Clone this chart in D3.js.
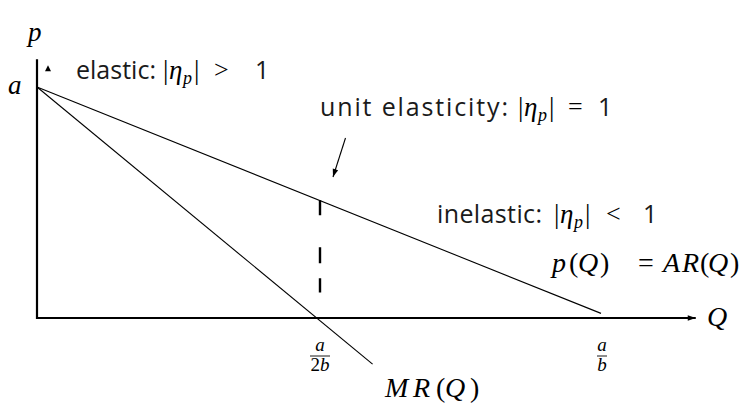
<!doctype html>
<html>
<head>
<meta charset="utf-8">
<script src="https://d3js.org/d3.v7.min.js"></script>
<style>
  body { margin: 0; background: #fff; }
  .sans { font-family: "Open Sans", sans-serif; font-size: 25px; fill: #1a1a1a; }
  .math { font-family: "Liberation Serif", serif; font-style: italic; }
  .rm { font-family: "Liberation Serif", serif; font-style: normal; }
</style>
</head>
<body>
<script>
// quantities in units of a/b, prices in units of a
var demandQ = [0, 1.0];
var demandP = [1, 0.02];
var mrQ = [0, 0.595];
var mrP = [1, -0.2];
var unitQ = 0.5;
var unitP = [0.51, 0.11];
var tickQ = [0.5, 1];
var tickNum = ["a", "a"];
var tickDen = ["2b", "b"];

var w = 739, h = 407;
var svg = d3.select("body").append("svg").attr("width", w).attr("height", h);

var x = d3.scaleLinear().domain([0, 1]).range([37, 601]);
var y = d3.scaleLinear().domain([0, 1]).range([318, 87]);

var defs = svg.append("defs");
defs.append("marker").attr("id", "ah")
    .attr("viewBox", "0 0 10 10").attr("refX", 10).attr("refY", 5)
    .attr("markerWidth", 11).attr("markerHeight", 8).attr("markerUnits", "userSpaceOnUse")
    .attr("orient", "auto")
  .append("path").attr("d", "M0,1.5L10,5L0,8.5Z").attr("fill", "#000");

// axes
svg.append("line")
   .attr("x1", x(0)).attr("y1", y(0)).attr("x2", x(1.168)).attr("y2", y(0))
   .attr("stroke", "#000").attr("stroke-width", 2.2)
   .attr("marker-end", "url(#ah)");
svg.append("line")
   .attr("x1", x(0)).attr("y1", y(0) + 1.1).attr("x2", x(0)).attr("y2", y(1.12))
   .attr("stroke", "#000").attr("stroke-width", 2.2);
// stray arrowhead near the top of the p axis
svg.append("path")
   .attr("d", "M" + (x(0) + 11) + "," + (y(1.12) + 6) + "l3,6l-6,0Z")
   .attr("fill", "#000");

var line = d3.line().x(function(d){ return x(d[0]); }).y(function(d){ return y(d[1]); });

svg.append("path")
   .attr("d", line(d3.zip(demandQ, demandP)))
   .attr("fill", "none").attr("stroke", "#000").attr("stroke-width", 1.1);
svg.append("path")
   .attr("d", line(d3.zip(mrQ, mrP)))
   .attr("fill", "none").attr("stroke", "#000").attr("stroke-width", 1.1);

// unit elasticity marker (drawn top to bottom)
svg.append("line")
   .attr("x1", x(unitQ) + 1).attr("x2", x(unitQ) + 1)
   .attr("y1", y(unitP[0])).attr("y2", y(unitP[1]))
   .attr("stroke", "#000").attr("stroke-width", 2.4)
   .attr("stroke-dasharray", "15,32,16,15,15");

svg.append("line")
   .attr("x1", 345.5).attr("y1", 138).attr("x2", 333).attr("y2", 177)
   .attr("stroke", "#000").attr("stroke-width", 1.1)
   .attr("marker-end", "url(#ah)");

// tick labels as fractions
var ticks = svg.selectAll("g.tick").data(tickQ).enter().append("g")
   .attr("transform", function(d){ return "translate(" + (x(d) + 1) + ",0)"; });
ticks.append("text").attr("class", "math").attr("text-anchor", "middle")
   .attr("y", 351).attr("font-size", 19).text(function(d, i){ return tickNum[i]; });
ticks.append("line").attr("y1", 356).attr("y2", 356)
   .attr("stroke", "#000").attr("stroke-width", 0.9)
   .attr("x1", function(d, i){ return tickDen[i].length > 1 ? -10 : -5; })
   .attr("x2", function(d, i){ return tickDen[i].length > 1 ? 10 : 5; });
ticks.append("text").attr("class", "math").attr("text-anchor", "middle")
   .attr("y", 371).attr("font-size", 19)
   .html(function(d, i){ return tickDen[i].length > 1 ? '<tspan class="rm" font-style="normal">2</tspan>b' : "b"; });

// axis names
svg.append("text").attr("class", "math").attr("x", 28).attr("y", 41).attr("font-size", 27).text("p");
svg.append("text").attr("class", "math").attr("x", 8).attr("y", 94).attr("font-size", 27).text("a");
svg.append("text").attr("class", "math").attr("x", 707).attr("y", 326).attr("font-size", 28).text("Q");

// region labels: word, then |eta_p|, relation, 1
function etaLabel(spec) {
  svg.append("text").attr("class", "sans").attr("x", spec.x).attr("y", spec.y)
     .attr("textLength", spec.len).attr("lengthAdjust", "spacing").text(spec.word);
  var m = svg.append("text").attr("y", spec.y).attr("font-size", 27);
  m.append("tspan").attr("class", "rm").attr("x", spec.bar).text("|");
  m.append("tspan").attr("class", "math").attr("x", spec.bar + 6).text("\u03b7");
  m.append("tspan").attr("class", "math").attr("font-size", 18).attr("x", spec.bar + 20).attr("dy", 5).text("p");
  m.append("tspan").attr("class", "rm").attr("x", spec.bar + 31).attr("dy", -5).text("|");
  svg.append("text").attr("class", "rm").attr("x", spec.rel).attr("y", spec.y - 1)
     .attr("font-size", 26).text(spec.sym);
  svg.append("text").attr("class", "sans").attr("x", spec.one).attr("y", spec.y).text("1");
}
etaLabel({ word: "elastic:", x: 76, y: 79, len: 80, bar: 163, rel: 214, sym: ">", one: 255 });
etaLabel({ word: "unit elasticity:", x: 320, y: 116, len: 188, bar: 518, rel: 568, sym: "=", one: 598 });
etaLabel({ word: "inelastic:", x: 437, y: 223, len: 105, bar: 554, rel: 606, sym: "<", one: 643 });

// curve names, glyph by glyph like the typeset original
function mathLabel(ty, parts) {
  var t = svg.append("text").attr("y", ty).attr("font-size", 28);
  parts.forEach(function(p){
    t.append("tspan").attr("class", p[2] ? "math" : "rm").attr("x", p[0]).text(p[1]);
  });
}
mathLabel(272, [[552, "p", 1], [569, "("], [578, "Q", 1], [600, ")"], [638, "="],
                [663, "A", 1], [682, "R", 1], [700, "("], [708, "Q", 1], [730, ")"]]);
mathLabel(397, [[385, "M", 1], [413, "R", 1], [436, "("], [445, "Q", 1], [470, ")"]]);
</script>
</body>
</html>
